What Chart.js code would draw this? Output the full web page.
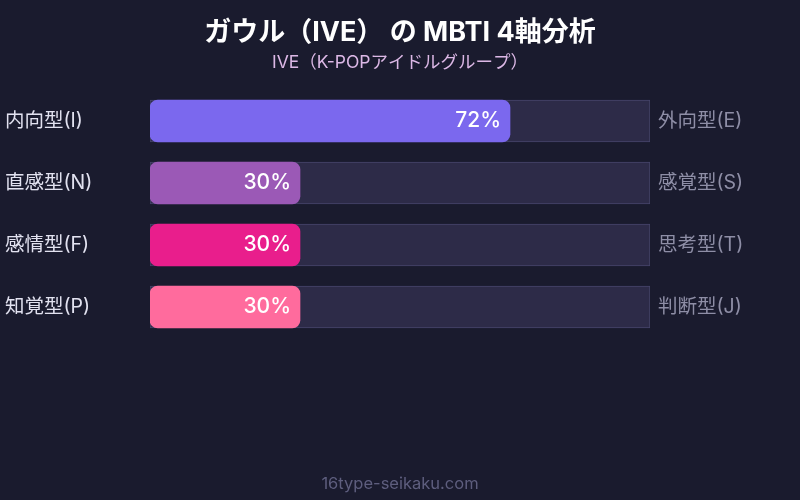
<!DOCTYPE html>
<html>
<head>
<meta charset="utf-8">
<script src="https://cdn.jsdelivr.net/npm/chart.js@4"></script>
<style>
  html, body { margin: 0; padding: 0; background: #1a1b2e; }
  #wrap { width: 800px; height: 500px; }
</style>
</head>
<body>
<div id="wrap"><canvas id="mbti"></canvas></div>
<script>
const titleText = 'ガウル（IVE） の MBTI 4軸分析';
const subtitleText = 'IVE（K-POPアイドルグループ）';
const footerText = '16type-seikaku.com';

const leftLabels = ['内向型(I)', '直感型(N)', '感情型(F)', '知覚型(P)'];
const rightLabels = ['外向型(E)', '感覚型(S)', '思考型(T)', '判断型(J)'];
const percentValues = [72, 30, 30, 30];
const trackValues = [100, 100, 100, 100];
const barColors = ['#7b68ee', '#9b59b6', '#e91e8c', '#ff6b9d'];

const FONT = "Inter, 'Noto Sans CJK JP', sans-serif";

// title, side labels, percentages and footer are drawn by hand
const textPlugin = {
    id: 'mbtiText',
    beforeDraw(chart) {
        const ctx = chart.ctx;
        ctx.save();
        ctx.fillStyle = '#1a1b2e';
        ctx.fillRect(0, 0, chart.width, chart.height);
        ctx.restore();
    },
    afterDraw(chart) {
        const ctx = chart.ctx;
        const yScale = chart.scales.y;
        const area = chart.chartArea;
        const bars = chart.getDatasetMeta(1).data;
        ctx.save();
        ctx.textBaseline = 'middle';

        ctx.textAlign = 'center';
        ctx.fillStyle = '#ffffff';
        ctx.font = 'bold 27px ' + FONT;
        ctx.fillText(titleText, chart.width / 2, 33);
        ctx.fillStyle = '#dcb8e6';
        ctx.font = '17.5px ' + FONT;
        ctx.fillText(subtitleText, chart.width / 2, 63);
        ctx.fillStyle = '#5e5e7e';
        ctx.font = '16.5px ' + FONT;
        ctx.fillText(footerText, chart.width / 2, 484);

        leftLabels.forEach((label, i) => {
            const y = yScale.getPixelForValue(i);
            ctx.font = '19.5px ' + FONT;
            ctx.textAlign = 'left';
            ctx.fillStyle = '#e2e2f0';
            ctx.fillText(label, 5, y);
            ctx.fillStyle = '#8e8ea6';
            ctx.fillText(rightLabels[i], area.right + 8, y);

            ctx.textAlign = 'right';
            ctx.fillStyle = '#ffffff';
            ctx.font = '500 21px ' + FONT;
            ctx.fillText(percentValues[i] + '%', bars[i].x - 9, y);
        });
        ctx.restore();
    }
};

new Chart(document.getElementById('mbti'), {
    type: 'bar',
    data: {
        labels: leftLabels,
        datasets: [
            {
                data: trackValues,
                backgroundColor: '#2d2b48',
                borderColor: '#46456a',
                borderWidth: 1,
                borderSkipped: false,
                grouped: false,
                order: 2
            },
            {
                data: percentValues,
                backgroundColor: barColors,
                borderWidth: 0,
                borderRadius: 8,
                borderSkipped: false,
                grouped: false,
                order: 1
            }
        ]
    },
    options: {
        indexAxis: 'y',
        responsive: true,
        maintainAspectRatio: false,
        animation: false,
        layout: { padding: { left: 150, right: 150, top: 90, bottom: 162 } },
        datasets: { bar: { barThickness: 42 } },
        scales: {
            x: { display: false, min: 0, max: 100 },
            y: { display: false }
        },
        plugins: {
            legend: { display: false },
            tooltip: { enabled: false }
        }
    },
    plugins: [textPlugin]
});
</script>
</body>
</html>
